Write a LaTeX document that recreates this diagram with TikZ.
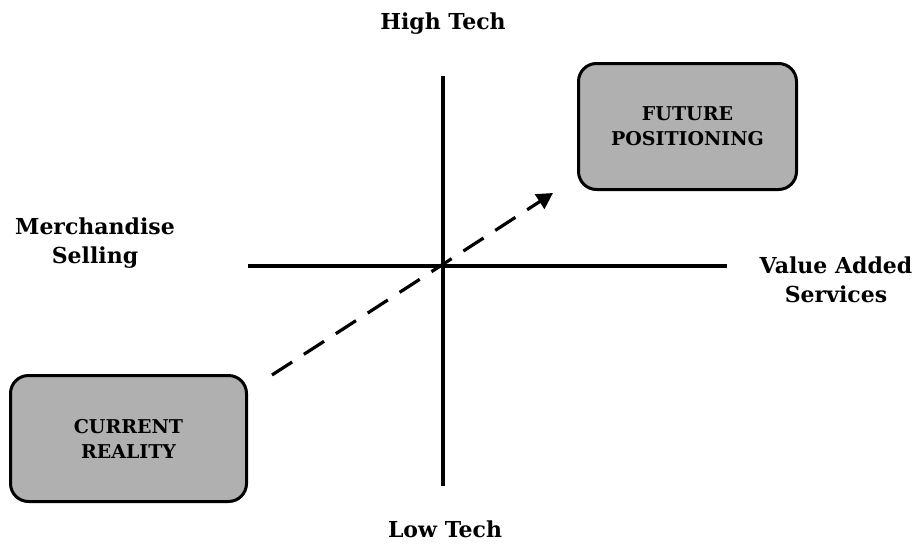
\documentclass[tikz,border=0pt]{standalone}
\usepackage{fontspec}
\setmainfont{DejaVu Serif}
\usetikzlibrary{arrows.meta}
\begin{document}
\begin{tikzpicture}[x=1pt,y=-1pt,
  axis/.style={line width=3.2pt},
  label/.style={font=\bfseries\fontsize{22}{29}\selectfont, align=center, inner sep=0pt},
  stage/.style={draw, line width=3pt, rounded corners=18pt, fill=black!31,
    font=\bfseries\fontsize{19}{25}\selectfont, align=center},
  move/.style={line width=3.2pt, dash pattern=on 24pt off 14pt,
    -{Triangle[length=16pt,width=17pt]}}]
  \useasboundingbox (0,0) rectangle (917,546);
  % quadrant axes
  \coordinate (top) at (443,76);
  \coordinate (bottom) at (443,486);
  \coordinate (left) at (248,266);
  \coordinate (right) at (727,266);
  \draw[axis] (top) -- (bottom);
  \draw[axis] (left) -- (right);
  % axis labels
  \node[label] (high) at (443,24) {High Tech};
  \node[label] (low) at (445,529) {Low Tech};
  \node[label] (merch) at (95,243) {Merchandise\\Selling};
  \node[label] (value) at (836,280) {Value Added\\Services};
  % positioning boxes
  \node[stage, minimum width=218pt, minimum height=126pt] (future) at (687.5,126.5) {FUTURE\\POSITIONING};
  \node[stage, minimum width=236pt, minimum height=126pt] (current) at (128.5,438.5) {CURRENT\\REALITY};
  % movement from current to future
  \coordinate (from) at (272,375);
  \coordinate (to) at (553,193);
  \draw[move] (from) -- (to);
\end{tikzpicture}
\end{document}
